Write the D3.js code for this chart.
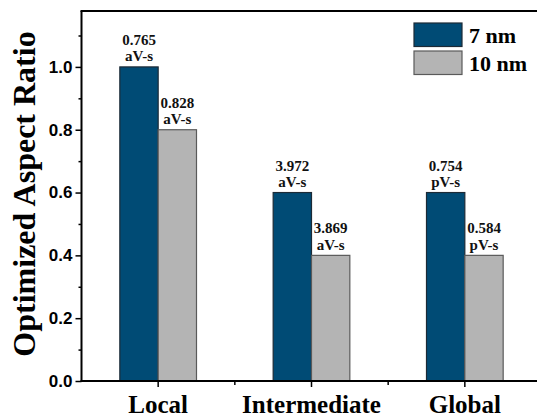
<!DOCTYPE html>
<html>
<head>
<meta charset="utf-8">
<script src="https://cdn.jsdelivr.net/npm/d3@7"></script>
<style>
  html, body { margin: 0; padding: 0; background: #fff; }
  svg { display: block; }
</style>
</head>
<body>
<svg id="chart" width="537" height="417"></svg>
<script>
// Interconnect levels and optimized aspect ratio per technology node
const categories = ["Local", "Intermediate", "Global"];
const seriesNames = ["7 nm", "10 nm"];
const values7nm = [1.0, 0.6, 0.6];
const values10nm = [0.8, 0.4, 0.4];
const labels7nm = [["0.765", "aV-s"], ["3.972", "aV-s"], ["0.754", "pV-s"]];
const labels10nm = [["0.828", "aV-s"], ["3.869", "aV-s"], ["0.584", "pV-s"]];
const yMajorTicks = [0.0, 0.2, 0.4, 0.6, 0.8, 1.0];
const yMinorTicks = [0.1, 0.3, 0.5, 0.7, 0.9, 1.1];

const fills = ["#004b75", "#b4b4b4"];
const strokes = ["#1c2a36", "#5a5a5a"];
const serif = "'Liberation Serif', 'Times New Roman', serif";
const sans = "'Liberation Sans', Arial, sans-serif";

const svg = d3.select("#chart");
const plotLeft = 81.5, plotRight = 541.5, plotTop = 11, plotBottom = 381;

const x = d3.scaleBand().domain(categories).range([plotLeft, plotRight]).padding(0);
const y = d3.scaleLinear().domain([0, 1.178]).range([plotBottom, plotTop]);
const bw = x.bandwidth();
const barW = bw / 4;

const series = [values7nm, values10nm];
const seriesLabels = [labels7nm, labels10nm];

// Bars
series.forEach((vals, si) => {
  svg.append("g").selectAll("rect")
    .data(categories)
    .join("rect")
    .attr("x", (c) => x(c) + bw / 2 + (si === 0 ? -barW : 0))
    .attr("y", (c, i) => y(vals[i]))
    .attr("width", barW)
    .attr("height", (c, i) => y(0) - y(vals[i]))
    .attr("fill", fills[si])
    .attr("stroke", strokes[si])
    .attr("stroke-width", 1.2);

  // Two-line value labels above each bar
  const g = svg.append("g")
    .attr("font-family", serif)
    .attr("font-weight", "bold")
    .attr("font-size", 15)
    .attr("text-anchor", "middle")
    .attr("fill", "#111");
  categories.forEach((c, i) => {
    const cx = x(c) + bw / 2 + (si === 0 ? -barW / 2 : barW / 2);
    const yt = y(vals[i]);
    g.append("text").attr("x", cx).attr("y", yt - 22).text(seriesLabels[si][i][0]);
    g.append("text").attr("x", cx).attr("y", yt - 5.5).text(seriesLabels[si][i][1]);
  });
});

// Y axis with major and minor ticks
const yAxis = d3.axisLeft(y).tickValues(yMajorTicks).tickFormat(d3.format(".1f")).tickSize(6).tickPadding(3);
const yg = svg.append("g").attr("transform", `translate(${plotLeft},0)`).call(yAxis);
yg.select(".domain").remove();
yg.selectAll(".tick line").attr("stroke", "#000").attr("stroke-width", 1.5);
yg.selectAll(".tick text")
  .attr("font-family", sans).attr("font-weight", "bold").attr("font-size", 17).attr("fill", "#000");

const yMinor = d3.axisLeft(y).tickValues(yMinorTicks).tickSize(3).tickFormat("");
const ymg = svg.append("g").attr("transform", `translate(${plotLeft},0)`).call(yMinor);
ymg.select(".domain").remove();
ymg.selectAll(".tick line").attr("stroke", "#000").attr("stroke-width", 1.5);

// X axis: major ticks at category centres, minor ticks between categories
const xAxis = d3.axisBottom(x).tickSize(6).tickPadding(8);
const xg = svg.append("g").attr("transform", `translate(0,${plotBottom})`).call(xAxis);
xg.select(".domain").remove();
xg.selectAll(".tick line").attr("stroke", "#000").attr("stroke-width", 1.5);
xg.selectAll(".tick text")
  .attr("font-family", serif).attr("font-weight", "bold").attr("font-size", 25).attr("fill", "#000")
  .attr("dy", "0.71em");

const boundaries = categories.slice(1).map((c) => x(c));
svg.append("g").selectAll("line")
  .data(boundaries)
  .join("line")
  .attr("x1", (d) => d).attr("x2", (d) => d)
  .attr("y1", plotBottom).attr("y2", plotBottom + 4)
  .attr("stroke", "#000").attr("stroke-width", 1.5);

// Frame: left, bottom and top lines
svg.append("line").attr("x1", plotLeft).attr("x2", plotLeft).attr("y1", plotTop).attr("y2", plotBottom + 1)
  .attr("stroke", "#000").attr("stroke-width", 2);
svg.append("line").attr("x1", plotLeft - 1).attr("x2", 537).attr("y1", plotBottom).attr("y2", plotBottom)
  .attr("stroke", "#000").attr("stroke-width", 2);
svg.append("line").attr("x1", plotLeft - 1).attr("x2", 537).attr("y1", plotTop).attr("y2", plotTop)
  .attr("stroke", "#000").attr("stroke-width", 2);

// Y axis title
svg.append("text")
  .attr("transform", "translate(35,194) rotate(-90)")
  .attr("text-anchor", "middle")
  .attr("font-family", serif).attr("font-weight", "bold").attr("font-size", 32)
  .attr("fill", "#000")
  .text("Optimized Aspect Ratio");

// Legend
const legend = svg.append("g").attr("transform", "translate(414,23)");
seriesNames.forEach((name, i) => {
  const row = legend.append("g").attr("transform", `translate(0,${i * 28})`);
  row.append("rect").attr("x", 0).attr("y", 0).attr("width", 48).attr("height", 23.5)
    .attr("fill", fills[i]).attr("stroke", strokes[i]).attr("stroke-width", 1.2);
  row.append("text").attr("x", 55).attr("y", 20)
    .attr("font-family", serif).attr("font-weight", "bold").attr("font-size", 22)
    .attr("fill", "#000").text(name);
});
</script>
</body>
</html>
